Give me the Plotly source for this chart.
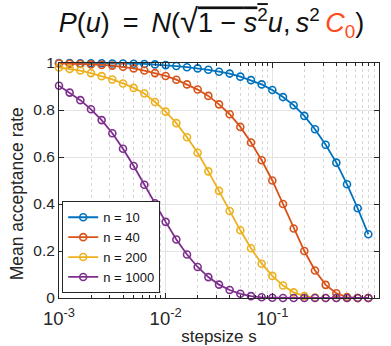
import plotly.graph_objects as go

# step sizes s (log-spaced grid, 10 per decade)
s = [0.001, 0.001259, 0.001585, 0.001995, 0.002512, 0.003162, 0.003981, 0.005012, 0.00631, 0.007943,
     0.01, 0.01259, 0.01585, 0.01995, 0.02512, 0.03162, 0.03981, 0.05012, 0.0631, 0.07943,
     0.1, 0.1259, 0.1585, 0.1995, 0.2512, 0.3162, 0.3981, 0.5012, 0.631, 0.7943]

acc_n10 = [1.0, 1.0, 0.999, 0.999, 0.999, 0.998, 0.998, 0.997, 0.996, 0.994,
           0.991, 0.987, 0.982, 0.977, 0.971, 0.963, 0.955, 0.942, 0.927, 0.909,
           0.885, 0.855, 0.820, 0.775, 0.718, 0.652, 0.576, 0.484, 0.382, 0.271]
acc_n40 = [0.998, 0.997, 0.996, 0.994, 0.992, 0.989, 0.984, 0.977, 0.968, 0.957,
           0.945, 0.929, 0.909, 0.887, 0.860, 0.824, 0.782, 0.728, 0.662, 0.586,
           0.500, 0.400, 0.296, 0.200, 0.117, 0.056, 0.020, 0.004, 0.0, 0.0]
acc_n200 = [0.981, 0.975, 0.968, 0.957, 0.944, 0.930, 0.913, 0.894, 0.870, 0.834,
            0.793, 0.744, 0.684, 0.618, 0.539, 0.456, 0.370, 0.288, 0.212, 0.146,
            0.094, 0.053, 0.024, 0.008, 0.002, 0.0, 0.0, 0.0, 0.0, 0.0]
acc_n1000 = [0.903, 0.874, 0.842, 0.803, 0.757, 0.701, 0.635, 0.562, 0.482, 0.403,
             0.324, 0.249, 0.185, 0.132, 0.089, 0.057, 0.034, 0.018, 0.008, 0.003,
             0.001, 0.0, 0.0, 0.0, 0.0, 0.0, 0.0, 0.0, 0.0, 0.0]

series_names = ["n = 10", "n = 40", "n = 200", "n = 1000"]
series_vals = [acc_n10, acc_n40, acc_n200, acc_n1000]
colors = ["#0072BD", "#D95319", "#EDB120", "#7E2F8E"]

x_tickvals = [0.001, 0.01, 0.1, 1]
x_ticktext = ["10<sup>-3</sup>", "10<sup>-2</sup>", "10<sup>-1</sup>", "10<sup>0</sup>"]

FONT = "Liberation Sans, Arial, sans-serif"
AX = "#262626"

fig = go.Figure()
for name, vals, c in zip(series_names, series_vals, colors):
    fig.add_trace(go.Scatter(
        x=s, y=vals, name=name, mode="lines+markers",
        line=dict(color=c, width=1.8),
        marker=dict(symbol="circle-open", size=7, color=c, line=dict(width=1.6, color=c)),
        cliponaxis=False,
    ))

title = ("<i>P</i>(<i>u</i>)\u00a0\u2009=\u00a0\u2009<i>N</i>(<span style='font-size:33px'>√</span>"
         "<span style='text-decoration:overline'>1 − <i>s</i><sup>2</sup></span>"
         "<i>u</i>,\u2009<i>s</i><sup>2</sup>\u2009<span style='color:#FF4A1C'><i>C</i><sub>0</sub></span>)")

fig.update_layout(
    width=391, height=346,
    margin=dict(l=59, r=12, t=63, b=48),
    paper_bgcolor="white", plot_bgcolor="white",
    font=dict(family=FONT, color=AX, size=15),
    title=dict(text=title, x=0.541, xanchor="center", xref="container",
               y=1 - 23 / 346, yanchor="middle", yref="container",
               font=dict(size=27, color="#111111", family=FONT)),
    showlegend=True,
    legend=dict(x=0.01, y=0.02, xanchor="left", yanchor="bottom",
                bgcolor="white", bordercolor=AX, borderwidth=1,
                font=dict(size=13, color="#111111"), itemwidth=30, tracegroupgap=0),
    hovermode=False,
    annotations=[dict(text="Mean acceptance rate", textangle=-90,
                      xref="paper", x=0, xanchor="center", xshift=-42,
                      yref="paper", y=0.441, yanchor="middle", showarrow=False,
                      font=dict(size=17.5, color="#262626"))],
)

fig.update_xaxes(
    type="log", range=[-3, 0], automargin=False,
    tickvals=x_tickvals, ticktext=x_ticktext,
    ticks="inside", ticklen=5, tickcolor=AX, tickwidth=1,
    showline=True, linecolor=AX, linewidth=1, mirror="allticks",
    showgrid=True, gridcolor="#E3E3E3", gridwidth=1,
    zeroline=False,
    tickfont=dict(size=18.5, color="#262626"),
    ticklabelstandoff=4,
    minor=dict(dtick="D1", ticks="inside", ticklen=3, tickcolor=AX,
               showgrid=True, gridcolor="#D8D8D8", griddash="dot", gridwidth=1),
    title=dict(text="stepsize s", font=dict(size=17, color="#262626"), standoff=2),
)
fig.update_yaxes(
    range=[0, 1], dtick=0.2, automargin=False,
    ticks="inside", ticklen=5, tickcolor=AX, tickwidth=1,
    showline=True, linecolor=AX, linewidth=1, mirror="allticks",
    showgrid=True, gridcolor="#E3E3E3", gridwidth=1,
    zeroline=False,
    tickfont=dict(size=15.5, color="#262626"),
)

fig.write_html("out.html")
